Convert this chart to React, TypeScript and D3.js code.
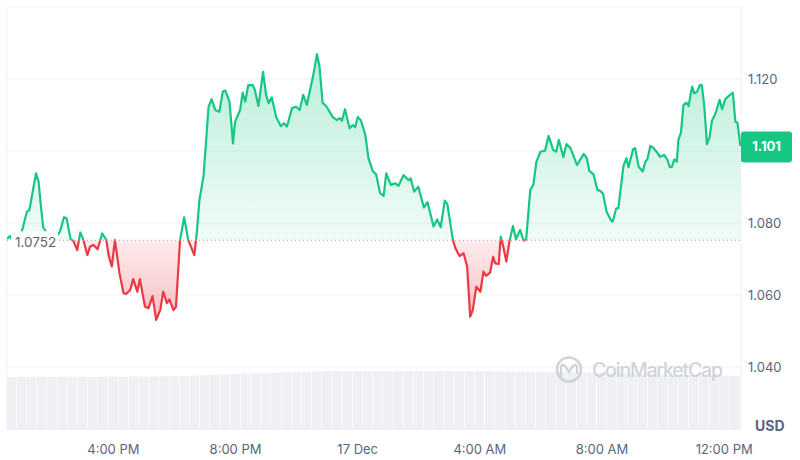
import React from "react";
import * as d3 from "d3";

// minutes after 16 Dec 12:00 PM
const minutes = [
  31, 37, 43, 49, 55, 62, 70, 75, 88, 93, 97, 102, 112, 121, 129, 135, 143, 148, 156, 161,
  169, 175, 180, 189, 194, 201, 209, 218, 226, 231, 237, 243, 252, 260, 265, 273, 279, 287, 292, 302,
  309, 317, 324, 332, 338, 345, 350, 358, 363, 371, 379, 387, 399, 404, 409, 417, 427, 433, 440, 448,
  455, 460, 468, 475, 479, 489, 494, 499, 505, 514, 518, 525, 534, 540, 545, 551, 560, 569, 575, 581,
  591, 599, 606, 613, 620, 632, 640, 645, 651, 659, 671, 679, 685, 689, 695, 704, 710, 715, 720, 726,
  735, 741, 750, 756, 764, 771, 776, 785, 794, 800, 810, 820, 824, 831, 839, 850, 857, 869, 876, 883,
  891, 896, 907, 912, 920, 928, 935, 941, 946, 953, 961, 967, 972, 980, 986, 990, 997, 1001, 1006, 1012,
  1018, 1025, 1031, 1039, 1046, 1051, 1059, 1065, 1071, 1079, 1088, 1095, 1104, 1110, 1115, 1124, 1130, 1138, 1151, 1164,
  1170, 1175, 1183, 1191, 1197, 1202, 1209, 1218, 1221, 1228, 1232, 1242, 1248, 1252, 1261, 1265, 1272, 1280, 1285, 1289,
  1295, 1300, 1307, 1314, 1322, 1328, 1333, 1337, 1342, 1347, 1350, 1355, 1360, 1366, 1370, 1377, 1381, 1387, 1392, 1396,
  1401, 1406, 1411, 1416, 1423, 1431, 1436, 1442, 1449, 1457, 1462, 1466, 1472,
];

const prices = [
  1.0756, 1.0764, 1.0747, 1.0736, 1.0758, 1.0786, 1.0831, 1.0836, 1.0938, 1.0915, 1.0856, 1.0789, 1.0764, 1.0758, 1.0764, 1.0776, 1.0816, 1.0813, 1.0755, 1.0751,
  1.0725, 1.0774, 1.0758, 1.0711, 1.0734, 1.0739, 1.0727, 1.0771, 1.0753, 1.0708, 1.0679, 1.0753, 1.066, 1.0605, 1.0603, 1.0614, 1.0644, 1.0609, 1.0644, 1.0568,
  1.0563, 1.0597, 1.0531, 1.0558, 1.0609, 1.0577, 1.0588, 1.0558, 1.0568, 1.0753, 1.0816, 1.0753, 1.0711, 1.0775, 1.0864, 1.0929, 1.1123, 1.1144, 1.1114, 1.1109,
  1.1165, 1.1168, 1.1137, 1.1021, 1.1081, 1.1114, 1.1162, 1.1137, 1.1183, 1.1183, 1.1169, 1.1125, 1.122, 1.1156, 1.1133, 1.1149, 1.1094, 1.1069, 1.1077, 1.1068,
  1.1119, 1.1123, 1.1114, 1.1156, 1.1128, 1.1206, 1.1269, 1.1234, 1.1134, 1.1123, 1.1094, 1.1086, 1.1091, 1.1084, 1.1116, 1.1063, 1.1072, 1.1066, 1.1094, 1.1086,
  1.1044, 1.098, 1.0943, 1.0936, 1.0883, 1.0875, 1.0938, 1.0906, 1.091, 1.0903, 1.0933, 1.0919, 1.0924, 1.0887, 1.0901, 1.0843, 1.0858, 1.079, 1.081, 1.0788,
  1.0862, 1.0853, 1.0753, 1.073, 1.0708, 1.0716, 1.0679, 1.054, 1.0558, 1.0623, 1.0609, 1.0665, 1.0653, 1.0662, 1.0706, 1.0688, 1.0686, 1.0762, 1.0734, 1.0693,
  1.0748, 1.0792, 1.0755, 1.0781, 1.0751, 1.0755, 1.0892, 1.0906, 1.097, 1.0998, 1.1001, 1.1042, 1.1003, 1.0998, 1.1031, 1.0983, 1.1019, 1.1008, 1.0961, 1.0992,
  1.098, 1.0945, 1.0936, 1.0892, 1.0889, 1.0881, 1.0831, 1.0806, 1.0804, 1.0841, 1.0841, 1.0958, 1.098, 1.0955, 1.1005, 1.1008, 1.0956, 1.0943, 1.097, 1.0977,
  1.1014, 1.101, 1.0998, 1.0984, 1.0989, 1.0977, 1.0956, 1.0955, 1.0977, 1.097, 1.1031, 1.1051, 1.1128, 1.1134, 1.1125, 1.1179, 1.116, 1.1165, 1.1183, 1.1183,
  1.1123, 1.1019, 1.1038, 1.1084, 1.1105, 1.1142, 1.1116, 1.1144, 1.1153, 1.1162, 1.1081, 1.1079, 1.1014,
];

// 24h volume (M USD), one bar per 20 minutes from 12:30 PM
const volumes = [
  312, 313, 312, 313, 314, 313, 313, 314, 313, 314, 315, 314, 315, 314, 315, 316,
  317, 318, 320, 322, 325, 327, 330, 332, 334, 336, 338, 340, 342, 343, 345, 346, 347,
  347, 346, 347, 348, 347, 346, 347, 348, 347, 346, 347, 346, 347, 346, 345,
  345, 344, 344, 343, 342, 341, 340, 339, 338, 337, 336,
  334, 332, 330, 329, 327, 326, 324, 323, 322, 321, 320, 319, 319, 318,
];

const basePrice = 1.0752;
const lastPrice = 1.101;
// 1.100 is hidden behind the last-price badge
const priceTicks = [1.04, 1.06, 1.08, 1.12];
const gridTicks = [1.04, 1.06, 1.08, 1.1, 1.12, 1.14];
const timeTicks = [240, 480, 720, 960, 1200, 1440];
const timeLabels = ["4:00 PM", "8:00 PM", "17 Dec", "4:00 AM", "8:00 AM", "12:00 PM"];

const GREEN = "#16c784";
const RED = "#ea3943";
const TEXT = "#58667e";
const GRID = "#eff2f5";
const FONT = "Inter, 'Noto Sans', sans-serif";

type Pt = { m: number; p: number };

const App = () => {
  const width = 800;
  const height = 460;
  const left = 7, right = 741, top = 7, bottom = 430;

  const x = d3.scaleLinear().domain([31, 1473]).range([left, right]);
  const y = d3.scaleLinear().domain([1.0225, 1.14]).range([bottom, top]);
  const v = d3.scaleLinear().domain([0, 400]).range([bottom, 362]);

  const data: Pt[] = minutes.map((m, i) => ({ m, p: prices[i] }));
  const yBase = y(basePrice);

  const line = d3.line<Pt>().x((d) => x(d.m)).y((d) => y(d.p));
  const area = d3
    .area<Pt>()
    .x((d) => x(d.m))
    .y0(yBase)
    .y1((d) => y(d.p));

  const linePath = line(data) || "";
  const areaPath = area(data) || "";
  const maxP = d3.max(prices) as number;
  const minP = d3.min(prices) as number;

  const barStep = 20;

  return (
    <svg
      width={width}
      height={height}
      style={{ position: "absolute", left: 0, top: 0, background: "#fff" }}
      fontFamily={FONT}
    >
      <defs>
        <clipPath id="above">
          <rect x={left} y={top} width={right - left} height={yBase - top} />
        </clipPath>
        <clipPath id="below">
          <rect x={left} y={yBase} width={right - left} height={bottom - yBase} />
        </clipPath>
        <clipPath id="plot">
          <rect x={left} y={top} width={right - left} height={bottom - top} />
        </clipPath>
        <linearGradient id="gFill" gradientUnits="userSpaceOnUse" x1="0" x2="0" y1={y(maxP)} y2={yBase}>
          <stop offset="0%" stopColor={GREEN} stopOpacity={0.3} />
          <stop offset="100%" stopColor={GREEN} stopOpacity={0.06} />
        </linearGradient>
        <linearGradient id="rFill" gradientUnits="userSpaceOnUse" x1="0" x2="0" y1={yBase} y2={y(minP)}>
          <stop offset="0%" stopColor={RED} stopOpacity={0.1} />
          <stop offset="100%" stopColor={RED} stopOpacity={0.32} />
        </linearGradient>
      </defs>

      {/* grid */}
      {gridTicks.map((t) => (
        <line key={t} x1={left} x2={right} y1={y(t)} y2={y(t)} stroke={GRID} strokeWidth={1} />
      ))}
      <line x1={left} x2={left} y1={top} y2={bottom} stroke={GRID} />
      <line x1={right} x2={right} y1={top} y2={bottom} stroke={GRID} />

      {/* volume */}
      <g clipPath="url(#plot)">
        {volumes.map((vol, i) => {
          const m0 = 30 + i * barStep;
          const x0 = x(m0);
          const x1 = x(m0 + barStep);
          return (
            <rect
              key={i}
              x={x0}
              y={v(vol)}
              width={Math.max(0, x1 - x0 - 0.6)}
              height={bottom - v(vol)}
              fill="#eef0f4"
            />
          );
        })}
      </g>

      {/* watermark */}
      <g opacity={0.85}>
        <circle cx={569} cy={369.5} r={12} fill="none" stroke="#c9cdd5" strokeWidth={2.6} />
        <path
          d="M561,376 L561,368 Q561,363 565,366 L569,372 L573,366 Q577,363 577,368 L577,373"
          fill="none"
          stroke="#c9cdd5"
          strokeWidth={2.4}
          strokeLinecap="round"
          strokeLinejoin="round"
        />
        <text x={592} y={377} fontSize={19.5} fill="#c9cdd5" fontWeight={500} textLength={131}>
          CoinMarketCap
        </text>
      </g>

      {/* price areas */}
      <path d={areaPath} fill="url(#gFill)" clipPath="url(#above)" />
      <path d={areaPath} fill="url(#rFill)" clipPath="url(#below)" />
      <path d={linePath} fill="none" stroke={GREEN} strokeWidth={2.2} strokeLinejoin="round" clipPath="url(#above)" />
      <path d={linePath} fill="none" stroke={RED} strokeWidth={2.2} strokeLinejoin="round" clipPath="url(#below)" />

      {/* baseline */}
      <line x1={left} x2={right} y1={yBase} y2={yBase} stroke="#9aa3b1" strokeWidth={1} strokeDasharray="1,3" />
      <rect x={11} y={yBase - 9} width={47} height={18} fill="#fff" />
      <text x={15} y={yBase + 2} dy="0.35em" fontSize={13.5} fill={TEXT}>
        {basePrice.toFixed(4)}
      </text>

      {/* y axis */}
      {priceTicks.map((t) => (
        <text key={t} x={748} y={y(t)} dy="0.35em" fontSize={13} fill={TEXT}>
          {t.toFixed(3)}
        </text>
      ))}
      <text x={755} y={426} dy="0.35em" fontSize={14} fontWeight={700} fill={TEXT}>
        USD
      </text>

      {/* last price badge */}
      <rect x={741} y={y(lastPrice) - 16} width={51} height={31} rx={3} fill={GREEN} />
      <text
        x={766.5}
        y={y(lastPrice) - 0.5}
        dy="0.35em"
        fontSize={13}
        fontWeight={700}
        fill="#fff"
        textAnchor="middle"
      >
        {lastPrice.toFixed(3)}
      </text>

      {/* x axis */}
      {timeTicks.map((t, i) => (
        <text key={t} x={x(t)} y={449} dy="0.35em" fontSize={13} fill={TEXT} textAnchor="middle">
          {timeLabels[i]}
        </text>
      ))}
    </svg>
  );
};

export default App;
